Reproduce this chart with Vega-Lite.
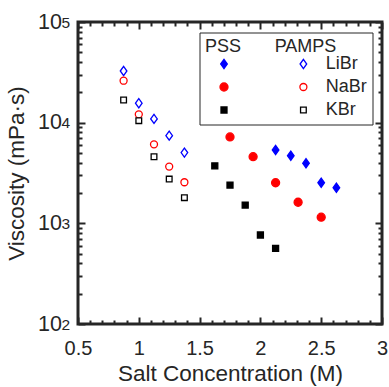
{
  "$schema": "https://vega.github.io/schema/vega-lite/v6.json",
  "width": 304,
  "height": 302,
  "autosize": {"type": "none"},
  "padding": {"left": 78, "top": 22, "right": 7, "bottom": 63},
  "background": "white",
  "config": {
    "view": {"stroke": "#262626", "strokeWidth": 3},
    "font": "Liberation Sans",
    "axis": {
      "grid": false, "domain": false,
      "labelFont": "Liberation Sans", "titleFont": "Liberation Sans",
      "labelColor": "#262626", "titleColor": "#262626", "tickColor": "#262626",
      "tickWidth": 2, "titleFontWeight": "normal", "labelFlush": false, "labelOverlap": false
    }
  },
  "data": {
    "values": [
      {"series": "PAMPS LiBr", "conc": 0.875, "visc": 32600},
      {"series": "PAMPS LiBr", "conc": 1.0, "visc": 15600},
      {"series": "PAMPS LiBr", "conc": 1.125, "visc": 10900},
      {"series": "PAMPS LiBr", "conc": 1.25, "visc": 7430},
      {"series": "PAMPS LiBr", "conc": 1.375, "visc": 5040},
      {"series": "PAMPS NaBr", "conc": 0.875, "visc": 26100},
      {"series": "PAMPS NaBr", "conc": 1.0, "visc": 12100},
      {"series": "PAMPS NaBr", "conc": 1.125, "visc": 6090},
      {"series": "PAMPS NaBr", "conc": 1.25, "visc": 3660},
      {"series": "PAMPS NaBr", "conc": 1.375, "visc": 2560},
      {"series": "PAMPS KBr", "conc": 0.875, "visc": 16800},
      {"series": "PAMPS KBr", "conc": 1.0, "visc": 10470},
      {"series": "PAMPS KBr", "conc": 1.125, "visc": 4590},
      {"series": "PAMPS KBr", "conc": 1.25, "visc": 2750},
      {"series": "PAMPS KBr", "conc": 1.375, "visc": 1800},
      {"series": "PSS LiBr", "conc": 2.125, "visc": 5360},
      {"series": "PSS LiBr", "conc": 2.25, "visc": 4700},
      {"series": "PSS LiBr", "conc": 2.375, "visc": 3950},
      {"series": "PSS LiBr", "conc": 2.5, "visc": 2530},
      {"series": "PSS LiBr", "conc": 2.625, "visc": 2260},
      {"series": "PSS NaBr", "conc": 1.75, "visc": 7210},
      {"series": "PSS NaBr", "conc": 1.94, "visc": 4590},
      {"series": "PSS NaBr", "conc": 2.125, "visc": 2530},
      {"series": "PSS NaBr", "conc": 2.31, "visc": 1620},
      {"series": "PSS NaBr", "conc": 2.5, "visc": 1150},
      {"series": "PSS KBr", "conc": 1.625, "visc": 3720},
      {"series": "PSS KBr", "conc": 1.75, "visc": 2400},
      {"series": "PSS KBr", "conc": 1.875, "visc": 1520},
      {"series": "PSS KBr", "conc": 2.0, "visc": 766},
      {"series": "PSS KBr", "conc": 2.125, "visc": 565}
    ]
  },
  "layer": [
    {
      "mark": {"type": "point", "filled": true, "opacity": 1, "strokeWidth": 1.3, "size": 100},
      "encoding": {
        "x": {"field": "conc", "type": "quantitative",
          "scale": {"domain": [0.5, 3], "nice": false, "zero": false},
          "axis": {"orient": "bottom", "values": [0.5, 1, 1.5, 2, 2.5, 3], "format": "~g", "ticks": false,
            "labelFontSize": 20, "labelPadding": 14, "title": "Salt Concentration (M)", "titleFontSize": 22.5, "titlePadding": 4}},
        "y": {"field": "visc", "type": "quantitative",
          "scale": {"type": "log", "domain": [100, 100000], "nice": false},
          "axis": {"orient": "left", "values": [100, 1000, 10000, 100000], "labelExpr": "'10'", "ticks": false,
            "labelFontSize": 21.5, "labelPadding": 16.5, "labelBaseline": "middle", "labelDy": 3,
            "title": "Viscosity (mPa·s)", "titleFontSize": 22.5, "titlePadding": 9}},
        "shape": {"field": "series", "type": "nominal",
          "scale": {"domain": ["PSS LiBr", "PSS NaBr", "PSS KBr", "PAMPS LiBr", "PAMPS NaBr", "PAMPS KBr"],
            "range": ["M-0.66,0L0,-0.92L0.66,0L0,0.92Z",
              "M0.8,0A0.8,0.8,0,1,1,-0.8,0A0.8,0.8,0,1,1,0.8,0Z",
              "M-0.6,-0.6L0.6,-0.6L0.6,0.6L-0.6,0.6Z",
              "M-0.66,0L0,-0.92L0.66,0L0,0.92Z",
              "M0.7,0A0.7,0.7,0,1,1,-0.7,0A0.7,0.7,0,1,1,0.7,0Z",
              "M-0.57,-0.57L0.57,-0.57L0.57,0.57L-0.57,0.57Z"]},
          "legend": {
            "orient": "none", "legendX": 121.5, "legendY": 10.5, "columns": 2,
            "title": "PSS\u00a0\u00a0\u00a0\u00a0\u00a0\u00a0\u2009PAMPS",
            "titleFontSize": 18, "titleFontWeight": "normal", "titleColor": "#262626", "titleFont": "Liberation Sans", "titlePadding": -1,
            "labelFontSize": 18, "labelFont": "Liberation Sans", "labelColor": "#262626",
            "labelExpr": "indexof(datum.label, 'PSS') == 0 ? '' : replace(datum.label, 'PAMPS ', '')",
            "symbolSize": 100, "symbolStrokeWidth": 1.3, "symbolOffset": 10, "labelOffset": 13.3,
            "columnPadding": 37.4, "rowPadding": 5, "padding": 5.5,
            "strokeColor": "#262626", "fillColor": "white",
            "encode": {"legend": {"update": {"strokeWidth": {"value": 3.5}}}}
          }},
        "fill": {"field": "series", "type": "nominal",
          "scale": {"domain": ["PSS LiBr", "PSS NaBr", "PSS KBr", "PAMPS LiBr", "PAMPS NaBr", "PAMPS KBr"],
            "range": ["#0000ff", "#ff0000", "#000000", "white", "white", "white"]}},
        "stroke": {"field": "series", "type": "nominal",
          "scale": {"domain": ["PSS LiBr", "PSS NaBr", "PSS KBr", "PAMPS LiBr", "PAMPS NaBr", "PAMPS KBr"],
            "range": ["#0000ff", "#ff0000", "#000000", "#0000ff", "#ff0000", "#000000"]}}
      }
    },
    {
      "mark": {"type": "point", "opacity": 0},
      "encoding": {
        "x": {"field": "conc", "type": "quantitative", "scale": {"domain": [0.5, 3], "nice": false, "zero": false},
          "axis": {"orient": "bottom", "values": [0.5, 1, 1.5, 2, 2.5, 3], "labels": false, "tickSize": -7, "title": null}},
        "y": {"field": "visc", "type": "quantitative", "scale": {"type": "log", "domain": [100, 100000], "nice": false},
          "axis": {"orient": "left", "values": [100, 1000, 10000, 100000], "labelExpr": "'' + round(log(datum.value) / LN10)", "ticks": false,
            "labelFontSize": 15.5, "labelPadding": 8.5, "labelBaseline": "middle", "labelDy": -1, "title": null}}
      }
    },
    {
      "mark": {"type": "point", "opacity": 0},
      "encoding": {
        "x": {"field": "conc", "type": "quantitative", "scale": {"domain": [0.5, 3], "nice": false, "zero": false},
          "axis": {"orient": "bottom", "values": [0.6, 0.7, 0.8, 0.9, 1.1, 1.2, 1.3, 1.4, 1.6, 1.7, 1.8, 1.9, 2.1, 2.2, 2.3, 2.4, 2.6, 2.7, 2.8, 2.9], "labels": false, "tickSize": -4, "title": null}},
        "y": {"field": "visc", "type": "quantitative", "scale": {"type": "log", "domain": [100, 100000], "nice": false},
          "axis": {"orient": "left", "values": [100, 1000, 10000, 100000], "labels": false, "tickSize": -7, "title": null}}
      }
    },
    {
      "mark": {"type": "point", "opacity": 0},
      "encoding": {
        "x": {"field": "conc", "type": "quantitative", "scale": {"domain": [0.5, 3], "nice": false, "zero": false},
          "axis": {"orient": "top", "values": [0.5, 1, 1.5, 2, 2.5, 3], "labels": false, "tickSize": -7, "title": null}},
        "y": {"field": "visc", "type": "quantitative", "scale": {"type": "log", "domain": [100, 100000], "nice": false},
          "axis": {"orient": "left", "values": [200, 300, 400, 500, 600, 700, 800, 900, 2000, 3000, 4000, 5000, 6000, 7000, 8000, 9000, 20000, 30000, 40000, 50000, 60000, 70000, 80000, 90000], "labels": false, "tickSize": -4, "title": null}}
      }
    },
    {
      "mark": {"type": "point", "opacity": 0},
      "encoding": {
        "x": {"field": "conc", "type": "quantitative", "scale": {"domain": [0.5, 3], "nice": false, "zero": false},
          "axis": {"orient": "top", "values": [0.6, 0.7, 0.8, 0.9, 1.1, 1.2, 1.3, 1.4, 1.6, 1.7, 1.8, 1.9, 2.1, 2.2, 2.3, 2.4, 2.6, 2.7, 2.8, 2.9], "labels": false, "tickSize": -4, "title": null}},
        "y": {"field": "visc", "type": "quantitative", "scale": {"type": "log", "domain": [100, 100000], "nice": false},
          "axis": {"orient": "right", "values": [100, 1000, 10000, 100000], "labels": false, "tickSize": -7, "title": null}}
      }
    },
    {
      "mark": {"type": "point", "opacity": 0},
      "encoding": {
        "x": {"field": "conc", "type": "quantitative", "scale": {"domain": [0.5, 3], "nice": false, "zero": false}, "axis": null},
        "y": {"field": "visc", "type": "quantitative", "scale": {"type": "log", "domain": [100, 100000], "nice": false},
          "axis": {"orient": "right", "values": [200, 300, 400, 500, 600, 700, 800, 900, 2000, 3000, 4000, 5000, 6000, 7000, 8000, 9000, 20000, 30000, 40000, 50000, 60000, 70000, 80000, 90000], "labels": false, "tickSize": -4, "title": null}}
      }
    }
  ],
  "resolve": {"axis": {"x": "independent", "y": "independent"}}
}
